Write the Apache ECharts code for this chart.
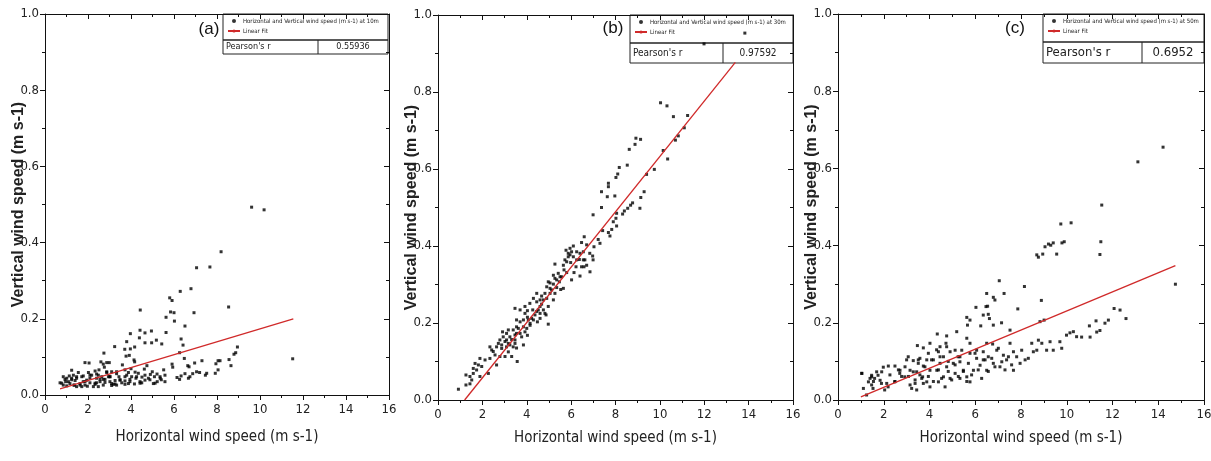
<!DOCTYPE html>
<html>
<head>
<meta charset="utf-8">
<title>Horizontal vs vertical wind speed</title>
<script src="https://cdn.jsdelivr.net/npm/echarts@6/dist/echarts.min.js"></script>
<style>
  html, body { margin: 0; padding: 0; background: #fff; }
  #chart { width: 1211px; height: 461px; }
</style>
</head>
<body>
<div id="chart"></div>
<script>
// panel tags, legend names and pearson values
const tags = ["(a)", "(b)", "(c)"];
const scatterNames = [
  "Horizontal and Vertical wind speed (m s-1) at 10m",
  "Horizontal and Vertical wind speed (m s-1) at 30m",
  "Horizontal and Vertical wind speed (m s-1) at 50m",
];
const pearson = ["0.55936", "0.97592", "0.6952"];

// (a) 10m  [horizontal, vertical]
const pointsA = [
  [9.61, 0.493], [10.19, 0.486], [8.19, 0.376], [7.05, 0.334], [7.67, 0.336], [6.79, 0.279], [6.29, 0.272],
  [5.80, 0.255], [5.91, 0.248], [4.43, 0.223], [8.54, 0.231], [6.93, 0.216], [5.84, 0.218], [6.00, 0.216],
  [5.63, 0.204], [6.02, 0.194], [6.51, 0.181], [5.63, 0.164], [6.33, 0.147], [6.42, 0.131], [4.42, 0.170],
  [3.97, 0.161], [4.65, 0.163], [4.95, 0.168], [5.18, 0.144], [4.96, 0.137], [4.65, 0.137], [4.39, 0.150],
  [3.80, 0.140], [5.43, 0.134], [3.71, 0.120], [4.17, 0.126], [3.97, 0.121], [3.77, 0.102], [3.92, 0.104],
  [3.24, 0.127], [2.74, 0.110], [6.26, 0.111], [8.95, 0.126], [8.87, 0.111], [8.79, 0.107], [11.52, 0.095],
  [4.14, 0.092], [4.17, 0.087], [6.48, 0.096], [8.56, 0.093], [7.30, 0.090], [8.05, 0.090], [7.95, 0.082],
  [6.96, 0.084], [6.64, 0.077], [6.70, 0.074], [5.91, 0.081], [5.94, 0.073], [8.65, 0.077], [8.05, 0.066],
  [7.92, 0.057], [7.52, 0.057], [7.19, 0.059], [6.87, 0.056], [7.05, 0.061], [6.51, 0.056], [6.33, 0.050],
  [6.14, 0.046], [6.26, 0.041], [6.67, 0.044], [6.74, 0.048], [7.46, 0.052], [5.52, 0.066], [5.58, 0.052],
  [5.41, 0.040], [5.22, 0.035], [5.09, 0.048], [4.99, 0.061], [4.74, 0.077], [4.90, 0.054], [4.65, 0.039],
  [4.51, 0.047], [4.42, 0.035], [4.19, 0.060], [4.03, 0.048], [3.80, 0.052], [3.72, 0.037], [3.60, 0.079],
  [3.44, 0.048], [3.26, 0.038], [3.10, 0.061], [2.99, 0.085], [2.87, 0.085], [2.71, 0.081], [2.60, 0.087],
  [2.76, 0.073], [2.51, 0.066], [2.33, 0.063], [2.05, 0.084], [1.86, 0.085], [2.02, 0.059], [2.17, 0.052],
  [2.64, 0.048], [2.79, 0.041], [2.40, 0.044], [3.02, 0.035], [1.78, 0.050], [1.55, 0.059], [1.24, 0.065],
  [1.24, 0.044], [0.93, 0.041], [0.70, 0.032], [0.85, 0.026], [1.09, 0.035], [1.40, 0.038], [1.63, 0.030],
  [1.86, 0.026], [2.09, 0.032], [2.33, 0.028], [2.56, 0.035], [2.71, 0.026], [3.10, 0.030], [3.33, 0.026],
  [3.57, 0.032], [3.88, 0.030], [4.16, 0.029], [4.50, 0.032], [1.71, 0.022], [1.47, 0.022], [2.25, 0.022],
  [1.01, 0.024], [1.94, 0.039], [1.32, 0.052], [2.95, 0.048], [3.72, 0.066], [4.00, 0.069], [4.62, 0.068],
  [5.21, 0.055], [5.36, 0.044], [8.14, 0.090], [0.78, 0.031], [1.01, 0.044], [1.24, 0.040], [1.47, 0.048],
  [1.63, 0.026], [1.86, 0.035], [2.09, 0.052], [2.33, 0.031], [2.56, 0.041], [2.79, 0.033], [3.02, 0.048],
  [3.26, 0.029], [3.49, 0.040], [3.72, 0.048], [3.95, 0.035], [4.23, 0.044], [4.42, 0.031], [4.65, 0.052],
  [4.88, 0.040], [5.12, 0.031], [5.35, 0.048], [5.58, 0.035], [1.35, 0.026], [1.97, 0.023], [2.48, 0.022],
  [3.10, 0.025], [3.72, 0.028], [2.40, 0.055], [2.87, 0.061], [3.33, 0.056], [1.71, 0.048], [1.13, 0.050],
  [0.85, 0.048], [1.16, 0.030], [1.47, 0.044], [1.78, 0.035], [2.09, 0.044], [2.40, 0.032], [2.71, 0.041],
  [3.02, 0.048], [3.18, 0.028], [3.49, 0.039], [3.95, 0.041], [4.26, 0.048], [4.81, 0.044], [5.04, 0.030],
  [0.96, 0.035], [1.36, 0.026], [2.48, 0.052], [2.87, 0.059], [3.33, 0.061], [3.88, 0.059], [4.34, 0.057],
];
const fitA = [[0.7, 0.016], [11.55, 0.2]];

// (b) 30m
const pointsB = [
  [10.03, 0.772], [10.32, 0.764], [10.61, 0.736], [11.25, 0.739], [11.10, 0.707], [10.83, 0.686], [10.70, 0.675],
  [10.35, 0.626], [10.15, 0.648], [9.75, 0.599], [9.40, 0.586], [9.13, 0.677], [8.92, 0.680], [8.88, 0.664],
  [8.62, 0.651], [8.53, 0.610], [8.17, 0.604], [8.10, 0.587], [8.02, 0.578], [7.68, 0.563], [7.68, 0.554],
  [7.37, 0.541], [7.63, 0.528], [7.97, 0.530], [9.29, 0.541], [9.14, 0.526], [9.10, 0.498], [8.77, 0.512],
  [8.68, 0.506], [8.55, 0.498], [8.40, 0.491], [8.32, 0.483], [8.05, 0.485], [8.02, 0.472], [7.90, 0.463],
  [8.05, 0.452], [7.83, 0.443], [7.68, 0.435], [7.75, 0.426], [7.37, 0.500], [6.99, 0.481], [7.42, 0.440],
  [7.30, 0.407], [7.03, 0.398], [7.22, 0.417], [6.97, 0.374], [6.59, 0.424], [6.47, 0.409], [6.70, 0.403],
  [6.55, 0.385], [6.37, 0.365], [6.62, 0.364], [6.70, 0.350], [6.85, 0.333], [6.58, 0.346], [6.10, 0.400],
  [5.95, 0.394], [5.77, 0.389], [5.87, 0.381], [6.10, 0.372], [5.98, 0.357], [5.72, 0.364], [6.22, 0.346],
  [6.13, 0.331], [6.40, 0.322], [5.80, 0.331], [5.27, 0.353], [5.68, 0.338], [5.57, 0.320], [5.47, 0.307],
  [5.35, 0.292], [5.53, 0.287], [5.20, 0.301], [4.97, 0.307], [5.05, 0.290], [4.82, 0.277], [4.90, 0.264],
  [5.20, 0.260], [4.67, 0.270], [4.45, 0.255], [4.60, 0.243], [4.97, 0.243], [4.30, 0.264], [4.27, 0.234],
  [4.03, 0.232], [4.45, 0.230], [4.60, 0.225], [3.92, 0.225], [3.70, 0.234], [3.47, 0.238], [4.03, 0.215],
  [4.87, 0.221], [4.97, 0.197], [4.48, 0.203], [4.15, 0.194], [3.70, 0.203], [3.62, 0.186], [3.85, 0.190],
  [3.39, 0.182], [3.17, 0.182], [3.24, 0.164], [3.47, 0.156], [2.94, 0.164], [2.79, 0.156], [3.02, 0.152],
  [3.24, 0.143], [3.54, 0.135], [3.85, 0.143], [4.03, 0.168], [2.64, 0.138], [2.87, 0.134], [3.17, 0.125],
  [3.32, 0.113], [3.57, 0.100], [2.79, 0.113], [2.57, 0.117], [2.42, 0.130], [2.34, 0.108], [2.64, 0.091],
  [2.27, 0.069], [1.89, 0.108], [1.67, 0.095], [1.74, 0.078], [1.89, 0.061], [1.59, 0.069], [1.52, 0.052],
  [1.26, 0.065], [1.26, 0.039], [1.44, 0.042], [0.92, 0.028], [3.47, 0.147], [3.09, 0.138], [3.02, 0.113],
  [4.22, 0.212], [4.75, 0.234], [5.27, 0.277], [5.65, 0.290], [6.02, 0.312], [6.25, 0.364], [5.87, 0.372],
  [6.99, 0.364], [6.84, 0.381], [5.27, 0.316], [5.42, 0.329], [4.14, 0.251], [3.54, 0.208], [2.91, 0.177],
  [13.83, 0.953], [11.99, 0.925],
  [2.72, 0.147], [2.87, 0.143], [3.09, 0.156], [3.17, 0.147], [3.32, 0.157], [3.39, 0.138], [3.70, 0.173],
  [3.77, 0.164], [3.92, 0.177], [4.00, 0.186], [4.15, 0.199], [4.30, 0.208], [4.37, 0.221], [4.52, 0.234],
  [4.67, 0.249], [4.75, 0.260], [5.05, 0.277], [5.12, 0.286], [5.35, 0.312], [5.50, 0.320], [3.47, 0.169],
  [3.54, 0.190], [3.09, 0.173], [2.49, 0.126], [2.34, 0.138], [2.12, 0.104], [1.97, 0.087], [1.82, 0.091],
  [1.59, 0.082], [1.44, 0.061], [4.60, 0.212], [4.82, 0.225], [4.07, 0.208], [3.85, 0.208], [3.92, 0.243],
  [3.54, 0.173], [4.45, 0.277], [4.60, 0.260], [4.90, 0.294], [5.05, 0.304], [5.20, 0.324], [5.65, 0.350],
  [5.80, 0.359], [5.95, 0.377], [6.02, 0.385], [6.25, 0.385], [6.40, 0.381], [6.47, 0.346], [6.55, 0.364],
];
const fitB = [[1.2, 0.0], [13.4, 0.877]];

// (c) 50m
const pointsC = [
  [11.53, 0.505], [9.74, 0.456], [10.19, 0.459], [11.49, 0.410], [11.45, 0.377], [9.89, 0.410], [9.79, 0.407],
  [9.41, 0.407], [9.20, 0.404], [9.05, 0.397], [8.95, 0.378], [8.69, 0.376], [8.76, 0.370], [9.56, 0.378],
  [9.30, 0.401], [8.15, 0.294], [8.89, 0.258], [7.05, 0.309], [7.26, 0.276], [6.50, 0.276], [6.79, 0.266],
  [6.86, 0.259], [6.03, 0.240], [6.47, 0.242], [6.54, 0.243], [7.86, 0.236], [5.77, 0.207], [5.63, 0.214],
  [5.66, 0.194], [6.35, 0.220], [6.57, 0.222], [6.62, 0.211], [6.79, 0.194], [6.24, 0.192], [7.15, 0.200],
  [7.52, 0.181], [5.19, 0.177], [4.75, 0.166], [4.34, 0.171], [4.72, 0.147], [4.46, 0.138], [4.39, 0.125],
  [4.02, 0.147], [3.73, 0.135], [3.47, 0.141], [3.07, 0.112], [3.29, 0.102], [3.58, 0.108], [3.95, 0.121],
  [4.17, 0.104], [4.46, 0.095], [4.90, 0.125], [5.12, 0.129], [5.41, 0.129], [5.63, 0.160], [5.77, 0.147],
  [6.06, 0.129], [6.35, 0.125], [6.50, 0.147], [6.76, 0.145], [6.94, 0.129], [7.23, 0.116], [7.37, 0.104],
  [7.52, 0.147], [7.67, 0.125], [7.81, 0.112], [8.03, 0.129], [8.18, 0.104], [8.47, 0.147], [8.54, 0.125],
  [8.76, 0.155], [8.91, 0.147], [8.83, 0.203], [9.01, 0.207], [9.27, 0.151], [9.41, 0.129], [9.70, 0.151],
  [9.78, 0.134], [9.99, 0.168], [10.14, 0.174], [10.29, 0.177], [10.43, 0.164], [10.65, 0.163], [10.99, 0.192],
  [11.02, 0.163], [11.28, 0.205], [11.31, 0.176], [11.45, 0.180], [11.67, 0.199], [11.82, 0.207], [12.07, 0.237],
  [12.33, 0.233], [12.59, 0.211], [7.67, 0.077], [7.08, 0.086], [6.79, 0.095], [6.50, 0.077], [6.21, 0.090],
  [5.92, 0.077], [5.63, 0.060], [5.77, 0.047], [5.33, 0.056], [5.12, 0.069], [4.90, 0.056], [4.61, 0.060],
  [4.39, 0.047], [4.68, 0.034], [4.02, 0.034], [3.88, 0.047], [3.66, 0.056], [3.37, 0.043], [3.22, 0.030],
  [3.44, 0.026], [2.92, 0.060], [2.70, 0.069], [2.48, 0.047], [2.19, 0.034], [2.04, 0.026], [1.90, 0.043],
  [1.75, 0.064], [1.60, 0.056], [1.47, 0.064], [1.47, 0.039], [1.53, 0.030], [1.33, 0.047], [1.04, 0.069],
  [1.11, 0.030], [1.25, 0.013], [1.40, 0.056], [1.91, 0.073], [2.20, 0.088], [2.49, 0.088], [2.71, 0.077],
  [3.00, 0.104], [3.15, 0.077], [3.44, 0.073], [3.73, 0.088], [4.02, 0.077], [4.32, 0.077], [4.75, 0.086],
  [5.04, 0.095], [5.33, 0.099], [5.48, 0.077], [6.35, 0.104], [6.57, 0.112], [6.06, 0.108], [5.77, 0.121],
  [7.96, 0.095], [8.32, 0.108], [8.69, 0.129], [9.12, 0.129], [3.70, 0.060], [3.51, 0.095], [4.46, 0.112],
  [3.88, 0.104], [4.82, 0.100], [5.25, 0.112], [14.21, 0.655], [13.11, 0.617], [14.75, 0.300],
  [1.04, 0.069], [1.47, 0.060], [1.55, 0.048], [1.69, 0.073], [1.84, 0.051], [1.98, 0.085], [2.13, 0.043],
  [2.27, 0.065], [2.49, 0.048], [2.64, 0.078], [2.78, 0.061], [2.93, 0.086], [3.08, 0.061], [3.15, 0.039],
  [3.29, 0.073], [3.37, 0.052], [3.51, 0.104], [3.58, 0.065], [3.73, 0.043], [3.80, 0.086], [3.95, 0.061],
  [4.09, 0.104], [4.17, 0.048], [4.31, 0.130], [4.39, 0.078], [4.53, 0.056], [4.61, 0.112], [4.75, 0.138],
  [4.82, 0.074], [4.97, 0.052], [5.12, 0.091], [5.26, 0.061], [5.33, 0.112], [5.48, 0.074], [5.63, 0.048],
  [5.70, 0.095], [5.84, 0.065], [5.99, 0.121], [6.13, 0.078], [6.28, 0.056], [6.43, 0.104], [6.57, 0.074],
  [6.72, 0.108], [6.86, 0.086], [7.01, 0.134], [7.16, 0.099], [7.30, 0.078], [7.45, 0.112], [7.59, 0.091],
];
const fitC = [[1.0, 0.008], [14.75, 0.348]];

const allPoints = [pointsA, pointsB, pointsC];
const allFits = [fitA, fitB, fitC];

// layout of the three panels (pixels)
const grids = [
  { left: 45, top: 14, width: 344, height: 381 },
  { left: 438, top: 15, width: 355, height: 385 },
  { left: 838, top: 14, width: 366, height: 386 },
];
const xNameGaps = [35, 31, 31];
// legend box + pearson table per panel
const boxes = [
  { x: 223, y: 14, w: 165, lh: 26, th: 14, div: 95, legendFont: 6, tableFont: 9, tag: [209, 29] },
  { x: 630, y: 15, w: 163, lh: 28, th: 20, div: 93, legendFont: 6, tableFont: 10, tag: [613, 28] },
  { x: 1043, y: 14, w: 161, lh: 28, th: 21, div: 99, legendFont: 6, tableFont: 13, tag: [1015, 28] },
];

const narrow = "'Liberation Sans Narrow','DejaVu Sans Condensed','Liberation Sans',Arial,sans-serif";
const sans = "'Liberation Sans',Arial,sans-serif";
const red = "#d02a2a";

const chart = echarts.init(document.getElementById("chart"), null, { renderer: "canvas" });

let xAxis = [], yAxis = [], series = [], legend = [], graphic = [];

grids.forEach((g, i) => {
  // bottom + top x axes
  xAxis.push({
    gridIndex: i, type: "value", min: 0, max: 16, interval: 2,
    name: "Horizontal wind speed (m s-1)", nameLocation: "middle", nameGap: xNameGaps[i],
    nameMoveOverlap: false,
    nameTextStyle: { fontFamily: narrow, fontSize: 15, color: "#222" },
    axisLine: { onZero: false, lineStyle: { color: "#111", width: 1 } },
    axisTick: { inside: false, length: 5, lineStyle: { color: "#111" } },
    minorTick: { show: true, splitNumber: 2, length: 3, lineStyle: { color: "#111" } },
    axisLabel: { fontFamily: narrow, fontSize: 13, color: "#222", margin: 8 },
    splitLine: { show: false },
  });
  xAxis.push({
    gridIndex: i, type: "value", min: 0, max: 16, interval: 2, position: "top",
    axisLine: { onZero: false, lineStyle: { color: "#111", width: 1 } },
    axisTick: { inside: true, length: 5, lineStyle: { color: "#111" } },
    minorTick: { show: true, splitNumber: 2, length: 3, lineStyle: { color: "#111" } },
    axisLabel: { show: false },
    splitLine: { show: false },
  });
  // left + right y axes
  yAxis.push({
    gridIndex: i, type: "value", min: 0, max: 1, interval: 0.2,
    name: "Vertical wind speed (m s-1)", nameLocation: "middle", nameGap: 18,
    nameMoveOverlap: false,
    nameTextStyle: { fontFamily: sans, fontSize: 16, fontWeight: "bold", color: "#222" },
    axisLine: { onZero: false, lineStyle: { color: "#111", width: 1 } },
    axisTick: { inside: false, length: 5, lineStyle: { color: "#111" } },
    minorTick: { show: true, splitNumber: 2, length: 3, lineStyle: { color: "#111" } },
    axisLabel: { fontFamily: narrow, fontSize: 13, color: "#222", margin: 6, formatter: (v) => v.toFixed(1) },
    splitLine: { show: false },
  });
  yAxis.push({
    gridIndex: i, type: "value", min: 0, max: 1, interval: 0.2, position: "right",
    axisLine: { onZero: false, lineStyle: { color: "#111", width: 1 } },
    axisTick: { inside: true, length: 5, lineStyle: { color: "#111" } },
    minorTick: { show: true, splitNumber: 2, length: 3, lineStyle: { color: "#111" } },
    axisLabel: { show: false },
    splitLine: { show: false },
  });

  series.push({
    name: scatterNames[i], type: "scatter",
    xAxisIndex: i * 2, yAxisIndex: i * 2,
    data: allPoints[i],
    symbol: "rect", symbolSize: 3,
    itemStyle: { color: "#000" },
    silent: true,
  });
  series.push({
    name: "Linear Fit", type: "line",
    xAxisIndex: i * 2, yAxisIndex: i * 2,
    data: allFits[i],
    symbol: "none",
    lineStyle: { color: red, width: 1.3 },
    itemStyle: { color: red },
    silent: true, z: 3,
  });

  const b = boxes[i];
  legend.push({
    orient: "vertical",
    left: b.x + 4, top: b.y + 4,
    itemGap: 4, itemWidth: 12, itemHeight: 4,
    padding: 0,
    textStyle: { fontFamily: narrow, fontSize: b.legendFont, color: "#222", padding: [0, 0, 0, -2] },
    data: [{ name: scatterNames[i], icon: "circle" }, { name: "Linear Fit" }],
    selectedMode: false,
  });

  // legend frame and the Pearson's r table
  const line = { stroke: "#222", lineWidth: 1, fill: null };
  graphic.push(
    { type: "rect", shape: { x: b.x, y: b.y, width: b.w, height: b.lh }, style: line, silent: true },
    { type: "rect", shape: { x: b.x, y: b.y + b.lh, width: b.w, height: b.th }, style: line, silent: true },
    { type: "line", shape: { x1: b.x + b.div, y1: b.y + b.lh, x2: b.x + b.div, y2: b.y + b.lh + b.th }, style: { stroke: "#222", lineWidth: 1 }, silent: true },
    { type: "text", x: b.x + 3, y: b.y + b.lh + b.th / 2, style: { text: "Pearson's r", fontFamily: narrow, fontSize: b.tableFont, fill: "#222", verticalAlign: "middle" }, silent: true },
    { type: "text", x: b.x + b.div + (b.w - b.div) / 2, y: b.y + b.lh + b.th / 2, style: { text: pearson[i], fontFamily: narrow, fontSize: b.tableFont, fill: "#222", align: "center", verticalAlign: "middle" }, silent: true },
    { type: "text", x: b.tag[0], y: b.tag[1], style: { text: tags[i], fontFamily: sans, fontSize: 17, fill: "#111", align: "center", verticalAlign: "middle" }, silent: true }
  );
});

chart.setOption({
  animation: false,
  backgroundColor: "#fff",
  grid: grids.map((g) => Object.assign({ containLabel: false, outerBoundsMode: "none" }, g)),
  xAxis: xAxis,
  yAxis: yAxis,
  legend: legend,
  series: series,
  graphic: graphic,
});
</script>
</body>
</html>
